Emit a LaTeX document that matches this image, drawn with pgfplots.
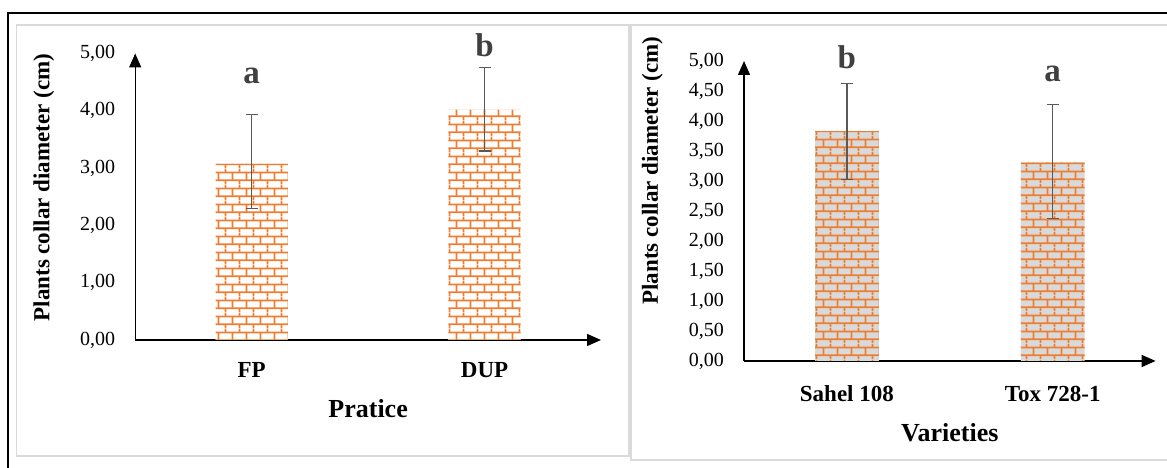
\documentclass[border=0pt]{standalone}
\usepackage{fontspec}
\setmainfont{Liberation Serif}
\usepackage{pgfplots}
\pgfplotsset{compat=1.18}
\usetikzlibrary{patterns.meta, arrows.meta}
\definecolor{brick}{HTML}{ED7D31}
\definecolor{brickbg}{HTML}{D9D9D9}
\definecolor{errc}{HTML}{595959}
\definecolor{panel}{HTML}{DADADA}
\definecolor{letc}{HTML}{404040}

\tikzdeclarepattern{
  name=mybricks,
  type=uncolored,
  bounding box={(0bp,0bp) and (14.4bp,15.6bp)},
  tile size={(14.4bp,15.6bp)},
  code={
    \draw[line width=1.8bp] (0bp,3.9bp) -- (14.4bp,3.9bp);
    \draw[line width=1.8bp] (0bp,11.7bp) -- (14.4bp,11.7bp);
    \draw[line width=1.8bp] (3.6bp,3.9bp) -- (3.6bp,11.7bp);
    \draw[line width=1.8bp] (10.8bp,11.7bp) -- (10.8bp,15.6bp);
    \draw[line width=1.8bp] (10.8bp,0bp) -- (10.8bp,3.9bp);
  }
}

\pgfplotsset{
  base/.style={
    scale only axis,
    axis lines=left,
    axis line style={line width=1.4bp, black, -{Triangle[length=14bp,width=12bp]}},
    major tick length=0pt,
    tick style={draw=none},
    clip=false,
    /pgf/number format/fixed,
    /pgf/number format/fixed zerofill,
    /pgf/number format/precision=2,
    /pgf/number format/use comma,
    /pgf/number format/assume math mode=true,
    yticklabel style={font=\fontsize{20bp}{24bp}\selectfont, anchor=east, inner sep=0pt, xshift=-20bp},
    xticklabel style={font=\bfseries\fontsize{23bp}{27bp}\selectfont, anchor=base, inner sep=0pt},
    xlabel style={font=\bfseries\fontsize{26bp}{30bp}\selectfont, at={(axis description cs:0.5,0)}, anchor=base, inner sep=0pt},
    ylabel style={font=\bfseries\fontsize{23bp}{27bp}\selectfont, anchor=base, inner sep=0pt},
  },
  errs/.style={
    error bars/.cd, y dir=both, y explicit,
    error bar style={errc, line width=1.2bp},
    error mark options={errc, line width=1.2bp, mark size=6bp, rotate=90},
  },
}

\begin{document}
\begin{tikzpicture}[x=1bp,y=1bp]
\useasboundingbox (0,0) rectangle (1167,468);
\fill[white] (0,0) rectangle (1167,468);
\draw[line width=1.2bp] (8,0) -- (8,455) -- (1168,455);
\draw[panel, line width=1.5bp] (16.5,443) rectangle (628.8,12);
\draw[panel, line width=1.5bp] (1170,8) -- (630.8,8) -- (630.8,443) -- (1170,443);

% Left chart
\begin{axis}[base,
  at={(135.2bp,128bp)}, anchor=south west,
  width=465.8bp, height=286.5bp,
  xmin=-0.5, xmax=1.5, ymin=0, ymax=5,
  ytick={0,1,2,3,4,5},
  xtick={0,1}, xticklabels={FP,DUP},
  xticklabel style={yshift=-38bp},
  xlabel={Pratice}, xlabel style={yshift=-78bp},
  ylabel={Plants collar diameter (cm)},
  ylabel style={at={(axis description cs:-0.184,0.532)}},
]
\addplot[ybar, bar width=0.31, draw=none, fill=white,
  postaction={pattern=mybricks, pattern color=brick}, errs]
  coordinates {(0,3.08) += (0,0.86) -= (0,0.79) (1,4.02) += (0,0.73) -= (0,0.72)};
\node[font=\bfseries\fontsize{33bp}{36bp}\selectfont, text=letc, anchor=base] at (axis cs:0,4.47) {a};
\node[font=\bfseries\fontsize{33bp}{36bp}\selectfont, text=letc, anchor=base] at (axis cs:1,4.94) {b};
\end{axis}

% Right chart
\begin{axis}[base,
  at={(744bp,107bp)}, anchor=south west,
  width=411.6bp, height=300bp,
  xmin=-0.5, xmax=1.5, ymin=0, ymax=5,
  ytick={0,0.5,1,1.5,2,2.5,3,3.5,4,4.5,5},
  xtick={0,1}, xticklabels={Sahel 108,Tox 728-1},
  xticklabel style={yshift=-41bp},
  xlabel={Varieties}, xlabel style={yshift=-80.7bp},
  ylabel={Plants collar diameter (cm)},
  ylabel style={at={(axis description cs:-0.209,0.634)}},
]
\addplot[ybar, bar width=0.31, draw=none, fill=brickbg,
  postaction={pattern=mybricks, pattern color=brick}, errs]
  coordinates {(0,3.83) += (0,0.80) -= (0,0.81) (1,3.31) += (0,0.97) -= (0,0.94)};
\node[font=\bfseries\fontsize{33bp}{36bp}\selectfont, text=letc, anchor=base] at (axis cs:0,4.88) {b};
\node[font=\bfseries\fontsize{33bp}{36bp}\selectfont, text=letc, anchor=base] at (axis cs:1,4.65) {a};
\end{axis}
\end{tikzpicture}
\end{document}
